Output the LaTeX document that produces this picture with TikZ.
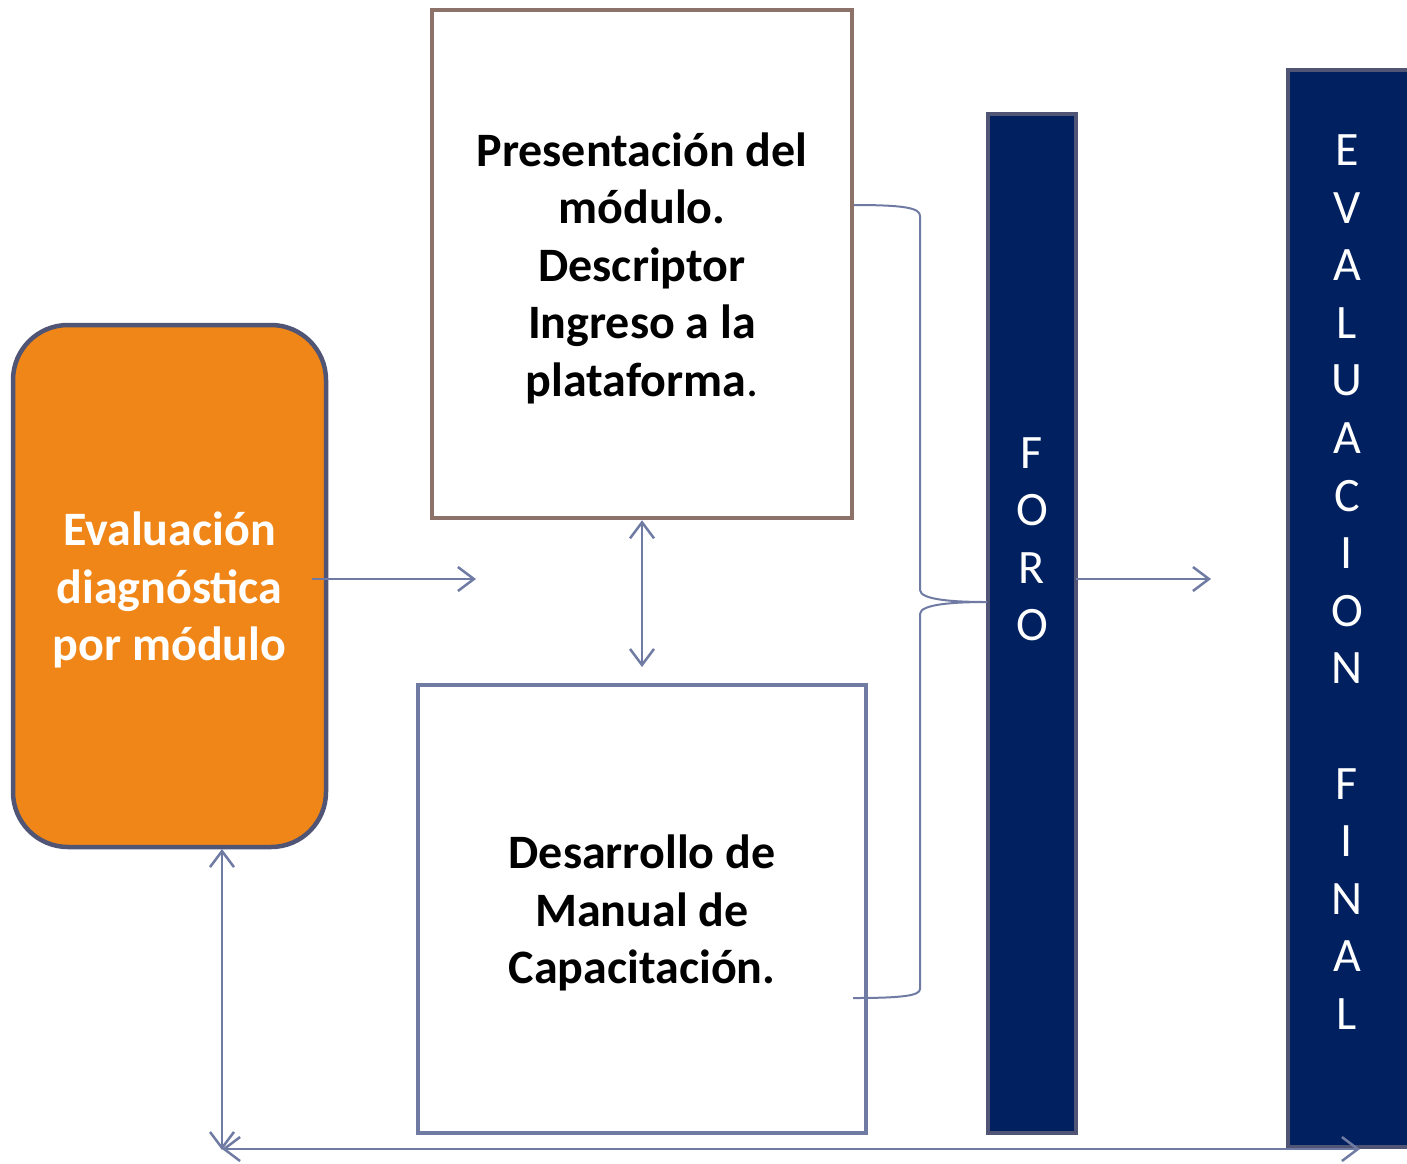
\documentclass[tikz,border=0pt]{standalone}
\usepackage{fontspec}
\setmainfont{Carlito}
\usetikzlibrary{arrows.meta}
\definecolor{orangefill}{RGB}{240,134,23}
\definecolor{slateline}{RGB}{80,85,118}
\definecolor{navy}{RGB}{0,32,96}
\definecolor{brownline}{RGB}{140,114,104}
\definecolor{blueline}{RGB}{112,123,163}
\tikzset{
  bigtext/.style={font=\fontsize{48}{57.5}\selectfont\bfseries, align=center, inner sep=0pt},
  boxbrown/.style={draw=brownline, line width=4.5pt, fill=white, inner sep=0pt},
  boxblue/.style={draw=blueline, line width=4.5pt, fill=white, inner sep=0pt},
  orangebox/.style={draw=slateline, line width=4.5pt, fill=orangefill, rounded corners=55pt, inner sep=0pt},
  bar/.style={draw=slateline, line width=4.5pt, fill=navy, inner sep=0pt},
  letter/.style={text=white, font=\fontsize{48}{57.5}\selectfont, inner sep=0pt},
  conn/.style={draw=blueline, line width=2.5pt, -{Straight Barb[length=16pt,width=24pt]}},
  dconn/.style={draw=blueline, line width=2.5pt, {Straight Barb[length=16pt,width=24pt]}-{Straight Barb[length=16pt,width=24pt]}},
  bracepath/.style={draw=blueline, line width=2pt}
}
\begin{document}
\begin{tikzpicture}[x=1pt,y=-1pt]
\useasboundingbox (0,0) rectangle (1407,1163);
% bars
\node[bar, minimum width=88pt, minimum height=1019pt] (foro) at (1032,623.5) {};
\node[bar, minimum width=122pt, minimum height=1077pt] (evalfinal) at (1349,608.5) {};
\foreach \l [count=\i] in {F,O,R,O}
  \node[letter] (foro\i) at (1032,{453+57.33*(\i-1)}) {\l};
\foreach \l/\k in {E/0,V/1,A/2,L/3,U/4,A/5,C/6,I/7,O/8,N/9,F/11,I/12,N/13,A/14,L/15}
  \node[letter] (ev\k) at (1347,{150+57.6*\k}) {\l};
% boxes
\node[boxbrown, minimum width=420pt, minimum height=508pt] (pres) at (642,264) {};
\node[bigtext] (presT) at (642,268)
  {Presentación del\\módulo.\\Descriptor\\Ingreso a la\\plataforma{\mdseries .}};
\node[boxblue, minimum width=448pt, minimum height=448pt] (desa) at (642,909) {};
\node[bigtext] (desaT) at (642,913)
  {Desarrollo de\\Manual de\\Capacitación.};
\node[orangebox, minimum width=313pt, minimum height=522pt] (diag) at (169.5,586) {};
\node[bigtext, text=white] (diagT) at (169.5,590)
  {Evaluación\\diagnóstica\\por módulo};
% connectors
\coordinate (a1s) at (312,579);
\coordinate (a1e) at (476,579);
\draw[conn] (a1s) -- (a1e);
\coordinate (dv) at (642,667);
\draw[dconn] (pres.south) -- (dv);
\coordinate (f1s) at (1076,579);
\coordinate (f1e) at (1211,579);
\draw[conn] (f1s) -- (f1e);
\coordinate (ls) at (222,849);
\coordinate (lc) at (222,1150);
\coordinate (lh) at (222,1149);
\coordinate (le) at (1360,1149);
\draw[dconn] (ls) -- (lc);
\draw[dconn] (lh) -- (le);
% brace
\coordinate (bt) at (854,205);
\coordinate (bm) at (987,602);
\coordinate (bb) at (853,998);
\draw[bracepath] (bt) .. controls (905,205) and (920,208) .. (920,216) -- (920,590)
  .. controls (920,600) and (955,602) .. (bm)
  .. controls (955,602) and (920,604) .. (920,614) -- (920,989)
  .. controls (920,996) and (900,998) .. (bb);
\end{tikzpicture}
\end{document}
